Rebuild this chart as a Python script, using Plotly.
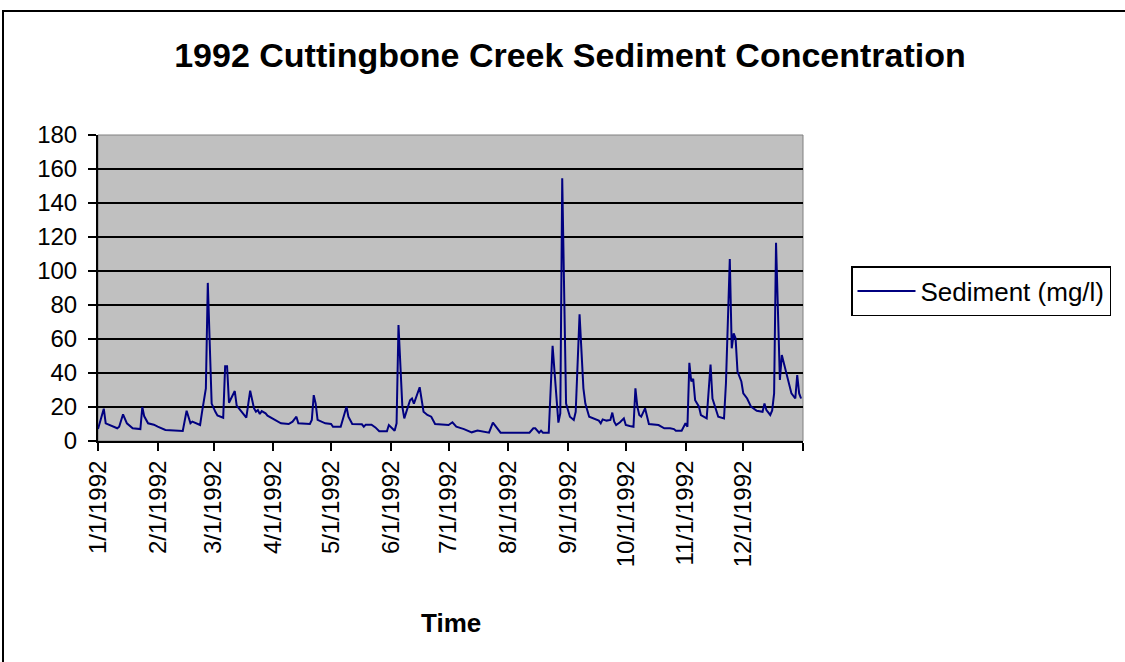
import pandas as pd
import plotly.graph_objects as go

# Day offsets from 1 Jan 1992 and sediment concentration (mg/l)
day_offset = [0, 3, 4, 7, 10, 11, 13, 15, 18, 22, 23, 24, 26, 29, 31, 35, 44, 46, 48, 49,
              51, 53, 54, 56, 57, 59, 61, 62, 65, 66, 67, 68, 71, 72, 77, 79, 81, 82, 83, 84,
              85, 87, 88, 89, 90, 92, 95, 99, 101, 103, 104, 110, 111, 112, 113, 114, 118, 121, 122, 126,
              127, 129, 130, 132, 137, 138, 139, 142, 144, 146, 150, 151, 154, 155, 156, 158, 159, 162, 163, 164,
              167, 169, 171, 173, 175, 182, 184, 186, 190, 194, 197, 203, 205, 209, 224, 226, 227, 229, 230, 231,
              234, 236, 239, 240, 241, 243, 245, 247, 248, 250, 252, 253, 255, 257, 260, 261, 262, 264, 266, 267,
              268, 269, 271, 273, 274, 276, 278, 279, 280, 281, 282, 284, 285, 286, 291, 294, 297, 299, 300, 303,
              305, 306, 307, 308, 309, 310, 312, 313, 316, 318, 319, 320, 321, 322, 325, 326, 328, 329, 330, 331,
              332, 334, 335, 337, 339, 342, 345, 346, 347, 349, 350, 351, 352, 354, 355, 358, 360, 362, 363, 364,
              365]
sediment = [7, 19, 10.4, 9, 7.5, 8.4, 15.7, 10.4, 7.5, 7, 20, 14.5, 10.4, 9.6, 8.4, 6.5, 5.9, 17.8, 10.4, 11.4,
            10.4, 9.4, 17, 31, 93, 22, 17, 15, 13.7, 44, 44, 22.5, 29.4, 20.8, 13.7, 29.6, 19.2, 17.2, 18.2, 15.9,
            17.6, 16.3, 14.9, 14.3, 13.5, 12.4, 10.4, 10, 11.4, 14.3, 10.4, 10, 12.4, 27, 22, 12.4, 10.4, 10, 8.4, 8.4,
            12.4, 20.2, 14.3, 10, 9.8, 8.4, 9.6, 9.6, 8, 5.7, 5.7, 9.4, 6, 10.4, 68.2, 20.2, 13.3, 24, 25, 22,
            31.6, 17.2, 15.3, 14.3, 10, 9.4, 11, 8.4, 7, 5.1, 6.1, 4.9, 10.8, 4.9, 4.9, 7.5, 7.5, 4.9, 6.1, 4.9,
            4.9, 56, 10.8, 16.3, 154.5, 22, 14.3, 12.4, 17.2, 74.5, 31, 22, 14.3, 13.3, 12, 10.4, 12.7, 12, 12.4, 16.7,
            11.4, 9.4, 11, 13.3, 9.4, 8.8, 8.4, 31, 20.2, 15.3, 14.3, 19.2, 14.3, 10, 9.4, 7.5, 7.5, 7, 6, 6,
            10.4, 8.4, 46, 35, 36.5, 24, 20.2, 15.3, 13.3, 45, 25, 21.2, 18.2, 14.3, 13.3, 34, 107, 54.5, 63.3, 60.4,
            40.8, 35, 28, 25, 20.2, 17.8, 17.2, 22, 18.2, 15.3, 18, 28, 116.6, 35.9, 50.6, 35.9, 28, 25, 38.8, 28,
            25]

tick_dates = ["1992-01-01", "1992-02-01", "1992-03-01", "1992-04-01", "1992-05-01", "1992-06-01",
              "1992-07-01", "1992-08-01", "1992-09-01", "1992-10-01", "1992-11-01", "1992-12-01", "1993-01-01"]
tick_labels = ["1/1/1992", "2/1/1992", "3/1/1992", "4/1/1992", "5/1/1992", "6/1/1992",
               "7/1/1992", "8/1/1992", "9/1/1992", "10/1/1992", "11/1/1992", "12/1/1992", ""]

dates = pd.Timestamp("1992-01-01") + pd.to_timedelta(day_offset, unit="D")

FONT = "Liberation Sans, Arial, sans-serif"

fig = go.Figure()
fig.add_trace(go.Scatter(x=dates, y=sediment, mode="lines", name="Sediment (mg/l)",
                         line=dict(color="#000080", width=2)))

W, H = 1125, 662
L, R, T, B = 98, 803, 135, 441
pw, ph = R - L, B - T


def px_x(p):
    return (p - L) / pw


def px_y(p):
    return (B - p) / ph


fig.update_layout(
    width=W, height=H,
    margin=dict(l=L, r=W - R, t=T, b=H - B, pad=0),
    paper_bgcolor="white",
    plot_bgcolor="#C0C0C0",
    font=dict(family=FONT, color="black", size=24),
    title=dict(text="<b>1992 Cuttingbone Creek Sediment Concentration</b>",
               x=570 / W, xanchor="center", y=1 - 55 / H, yanchor="middle",
               xref="container", yref="container",
               font=dict(family=FONT, size=34, color="black")),
    showlegend=True,
    legend=dict(x=px_x(851), y=px_y(266), xanchor="left", yanchor="top",
                bordercolor="black", borderwidth=1.5, bgcolor="white",
                font=dict(family=FONT, size=26, color="black"),
                itemwidth=58, tracegroupgap=0),
    xaxis=dict(type="date", range=["1992-01-01", "1993-01-01"],
               tickvals=tick_dates, ticktext=tick_labels, tickangle=-90,
               showgrid=False, zeroline=False,
               showline=True, linecolor="black", linewidth=2,
               ticks="outside", ticklen=8, tickwidth=2, tickcolor="black",
               tickfont=dict(family=FONT, size=24, color="black")),
    yaxis=dict(range=[0, 180], tick0=0, dtick=20,
               showgrid=True, gridcolor="black", gridwidth=1.5,
               zeroline=False,
               showline=True, linecolor="black", linewidth=2,
               ticks="outside", ticklen=8, tickwidth=2, tickcolor="black",
               ticklabelstandoff=6,
               tickfont=dict(family=FONT, size=24, color="black")),
    shapes=[
        # gray border of the plot area (top and right)
        dict(type="rect", xref="paper", yref="paper", x0=0, y0=0, x1=1, y1=1,
             line=dict(color="#808080", width=1), layer="below"),
        # outer chart frame
        dict(type="rect", xref="paper", yref="paper",
             x0=px_x(3), y0=px_y(680), x1=px_x(1140), y1=px_y(11),
             line=dict(color="black", width=2)),
    ],
    annotations=[
        dict(text="<b>Time</b>", xref="paper", yref="paper", x=0.5, y=px_y(623),
             xanchor="center", yanchor="middle", showarrow=False,
             font=dict(family=FONT, size=26, color="black")),
    ],
)

# remove the default 8px page margin so the figure sits at the window origin
fig.write_html("out.html",
               config={"displayModeBar": False},
               post_script="document.body.style.margin='0';document.body.style.overflow='hidden';")
